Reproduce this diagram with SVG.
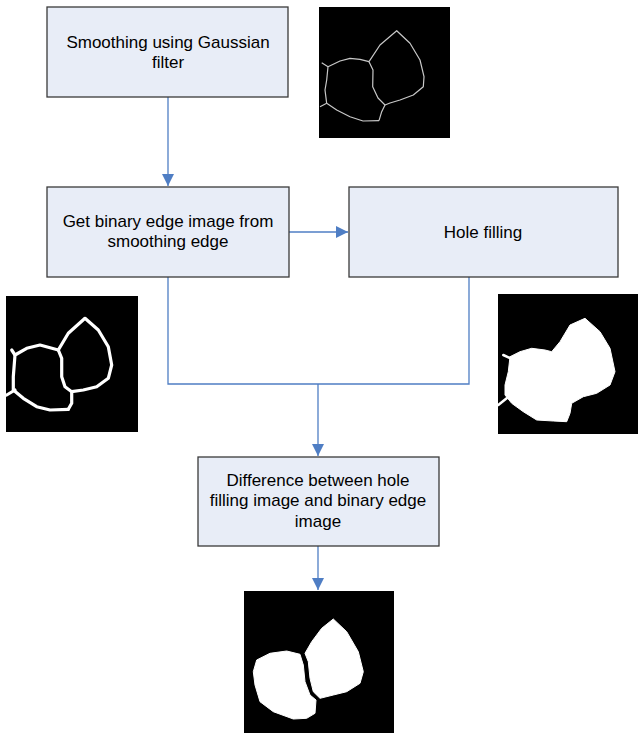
<svg xmlns="http://www.w3.org/2000/svg" width="638" height="733" viewBox="0 0 638 733">
<style>
.box{fill:#E8EDF7;stroke:#3a3a3a;stroke-width:1.3}
.t{font-family:"Liberation Sans",Arial,sans-serif;font-size:17px;fill:#000;text-anchor:middle}
.c{fill:none;stroke:#4F7EC4;stroke-width:1.3}
.img{fill:#000}
.thin{fill:none;stroke:#c8c8c8;stroke-width:1.2;stroke-linejoin:round}
.thick{fill:none;stroke:#fff;stroke-width:3.2;stroke-linejoin:round;stroke-linecap:round}
.fill{fill:#fff;stroke:#fff;stroke-width:1;stroke-linejoin:round}
</style>
<defs>
<marker id="ah" viewBox="0 0 10 10" refX="10" refY="5" markerWidth="12" markerHeight="12" markerUnits="userSpaceOnUse" orient="auto">
<path d="M0,0 L10,5 L0,10 z" fill="#4F7EC4"/>
</marker>
</defs>
<rect width="638" height="733" fill="#fff"/>

<g id="connectors">
<path class="c" d="M168,97 V186" marker-end="url(#ah)"/>
<path class="c" d="M289,232 H348" marker-end="url(#ah)"/>
<path class="c" d="M168,277 V384 H469 V277"/>
<path class="c" d="M318,384 V456" marker-end="url(#ah)"/>
<path class="c" d="M318,546 V590" marker-end="url(#ah)"/>
</g>

<g id="node1">
<rect class="box" x="47" y="7" width="241" height="90"/>
<text class="t" x="168" y="48">Smoothing using Gaussian</text>
<text class="t" x="168" y="68">filter</text>
</g>

<g id="node2">
<rect class="box" x="47" y="187" width="242" height="90"/>
<text class="t" x="168" y="227">Get binary edge image from</text>
<text class="t" x="168" y="247">smoothing edge</text>
</g>

<g id="node3">
<rect class="box" x="349" y="187" width="269" height="90"/>
<text class="t" x="483" y="238">Hole filling</text>
</g>

<g id="node4">
<rect class="box" x="198" y="457" width="241" height="89"/>
<text class="t" x="318" y="486">Difference between hole</text>
<text class="t" x="318" y="506">filling image and binary edge</text>
<text class="t" x="318" y="527">image</text>
</g>

<g id="image-smoothed">
<rect class="img" x="319" y="7" width="131" height="131"/>
<path class="thin" d="M369,61.7 L380,45 L396.7,30.7 L410,43.3 L420,60 L424,76.7 L423.3,86.7 L413.3,95 L400,100 L390,103 L385,105"/>
<path class="thin" d="M369,61.7 L373,70 L372.7,86.7 L378,98 L385,105 L381.7,111.7 L379,120.7"/>
<path class="thin" d="M369,61.7 L360,59.3 L350,58.3 L340,61 L328,66.7 L326.7,80 L325,90 L326.7,103.3 L336.7,110 L350,116.7 L363,121 L379,120.7"/>
<path class="thin" d="M321.7,62.7 L328,66.7 M320,106.7 L326.7,103.3"/>
</g>

<g id="image-binary-edge">
<rect class="img" x="6" y="296" width="132" height="136"/>
<path class="thick" d="M58.3,350 L68.3,333.3 L85,318.3 L98.3,330 L108.3,346.7 L111.7,365 L108.3,378.3 L96.7,386.7 L83.3,390 L71.7,391.7"/>
<path class="thick" d="M58.3,350 L61.7,358.3 L61.7,376.7 L65,386.7 L71.7,391.7 L71.7,403.3 L68.3,409.3"/>
<path class="thick" d="M58.3,350 L40,345 L26.7,348.3 L15,355 L13.3,376.7 L13.3,390 L23.3,398.3 L36.7,406.7 L50,410 L68.3,409.3"/>
<path class="thick" d="M11.7,350 L15,355 M6.7,395 L15,390"/>
</g>

<g id="image-hole-filled">
<rect class="img" x="498" y="294" width="140" height="140"/>
<path class="fill" d="M585,318.3 L600,331.7 L610,348.3 L615,371.7 L610,385 L596.7,393.3 L583.3,396.7 L571.7,403.3 L570,413.3 L566.7,421.7 L553.3,421 L536.7,420 L523.3,411.7 L511.7,403.3 L505,395 L505,385 L508.3,371.7 L510,356.7 L520,351.7 L531.7,348.3 L545,350 L551.7,351.7 L560,341.7 L570,325 Z"/>
<path class="thick" d="M503.3,355 L510,358 M498.3,405 L507,398" style="stroke-width:2.5"/>
</g>

<g id="image-difference">
<rect class="img" x="244" y="591" width="150" height="142"/>
<path class="fill" d="M333.3,619 L346.7,631.7 L358.3,651.7 L363.3,671.7 L360,683.3 L346.7,691.7 L333.3,695 L320,698.3 L313.3,691.7 L310,678.3 L308.3,661.7 L305,653.3 L311.7,641.7 L321.7,628.3 Z"/>
<path class="fill" d="M256.7,660 L270,653.3 L286.7,651 L300,654.3 L303.3,665 L305,681.7 L310,695 L316,700 L315,713.3 L306.7,718.3 L293.3,719 L273.3,711.7 L260,701.7 L255,685 L253.3,671.7 Z"/>
</g>
</svg>
